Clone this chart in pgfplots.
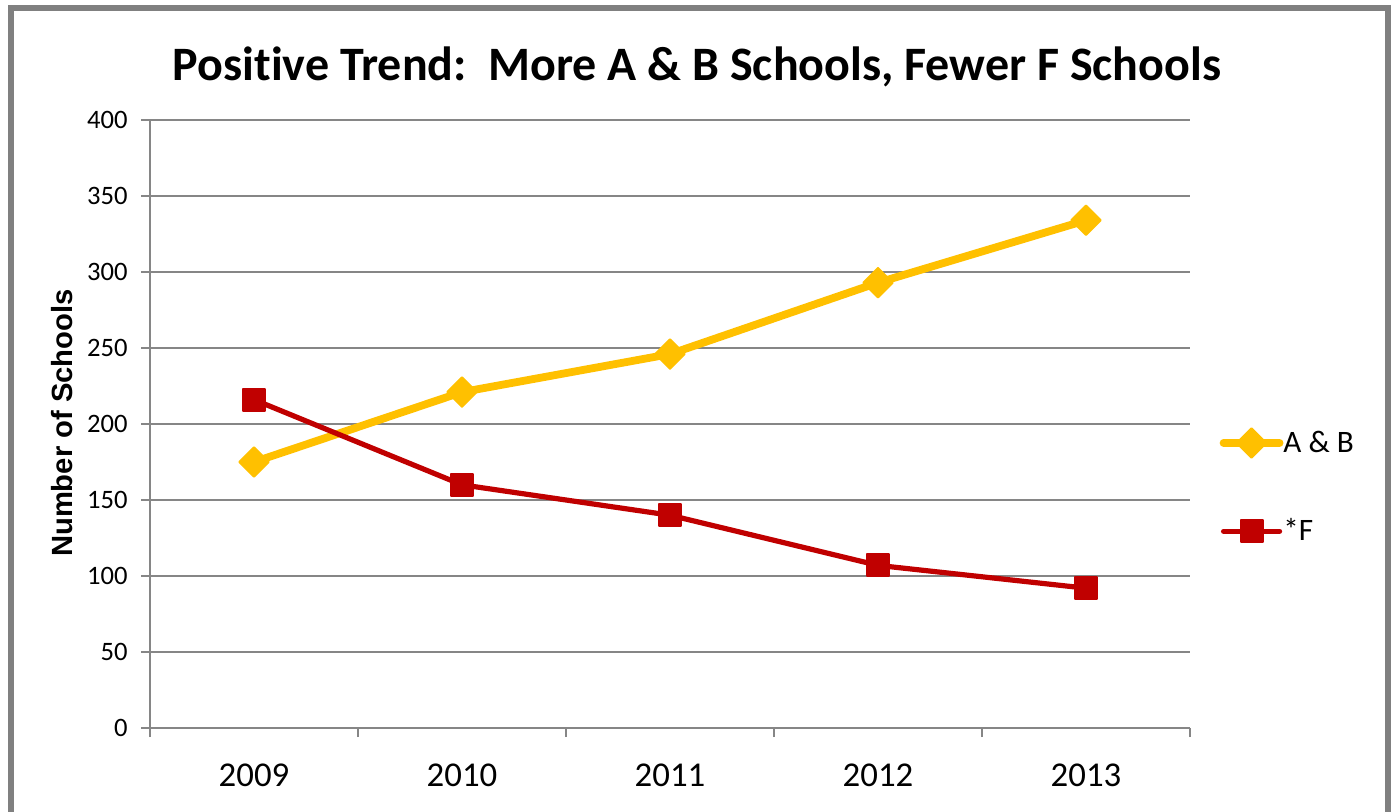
\documentclass[border=0pt]{standalone}
\usepackage{pgfplots}
\pgfplotsset{compat=1.18}
\usepackage{fontspec}
\setmainfont{Carlito}[RawFeature={-liga}]
\newfontfamily\arialfont{Liberation Sans}
\definecolor{ab}{RGB}{255,192,0}
\definecolor{ff}{RGB}{192,0,0}
\definecolor{gridc}{RGB}{134,134,134}
\definecolor{framec}{RGB}{128,128,128}
\begin{document}
\begin{tikzpicture}
\useasboundingbox (0,0) rectangle (697.5pt,405.5pt);
\draw[framec, line width=3pt] (5.25pt,-10pt) rectangle (694pt,401.25pt);
\begin{axis}[
  at={(75pt,41.5pt)}, anchor=south west, scale only axis,
  width=520pt, height=304pt,
  xmin=-0.5, xmax=4.5, ymin=0, ymax=400,
  ytick={0,50,...,400},
  xtick={-0.5,0.5,1.5,2.5,3.5,4.5}, xticklabels={},
  extra x ticks={0,1,2,3,4},
  extra x tick labels={2009,2010,2011,2012,2013},
  extra x tick style={major tick length=0pt, grid=none},
  axis x line*=bottom, axis y line*=left,
  axis line style={gridc, line width=1pt, -},
  tick style={gridc, line width=1pt},
  major tick length=4.5pt,
  tick align=outside,
  ymajorgrids, grid style={gridc, line width=1pt},
  /pgf/number format/assume math mode=true,
  yticklabel style={font=\fontsize{13.3}{15}\selectfont, anchor=east, inner sep=0pt, xshift=-6.5pt},
  xticklabel style={font=\fontsize{17.4}{20}\selectfont, anchor=base, inner sep=0pt, yshift=-29pt},
  title={Positive Trend:\ \ More A \& B Schools, Fewer F Schools},
  title style={font=\fontsize{24}{28}\selectfont\bfseries, at={(axis description cs:0.526,1.046)}, anchor=base, inner sep=0pt, yshift=0pt},
  ylabel={Number of Schools},
  ylabel style={font=\arialfont\bfseries\fontsize{14.6}{16}\selectfont, at={(axis description cs:-0.0846,0.5016)}, anchor=center, inner sep=0pt},
  legend image code/.code={\draw[mark repeat=2,mark phase=2] plot coordinates {(0pt,0pt)(14pt,0pt)(28pt,0pt)};},
  legend style={at={(axis description cs:1.0285,0.398)}, anchor=west, draw=none, fill=none,
    inner sep=0pt, outer sep=0pt, row sep=30.5pt, column sep=0pt,
    nodes={inner sep=0pt, anchor=west, font=\fontsize{15.6}{18}\selectfont}},
  legend cell align=left,
]
\addplot[ab, line width=3.9pt, line join=round, line cap=round,
  mark=square*, mark size=5.2pt,
  mark options={rotate=45, fill=ab, draw=ab, line width=1pt, line join=round, solid}]
  coordinates {(0,175) (1,221) (2,246) (3,293) (4,334)};
\addlegendentry{A \& B}
\addplot[ff, line width=2.6pt, line join=round, line cap=round,
  mark=square*, mark size=5.5pt,
  mark options={fill=ff, draw=ff, line width=1pt, line join=round, solid}]
  coordinates {(0,216) (1,160) (2,140) (3,107) (4,92)};
\addlegendentry{*F}
\end{axis}
\end{tikzpicture}
\end{document}
